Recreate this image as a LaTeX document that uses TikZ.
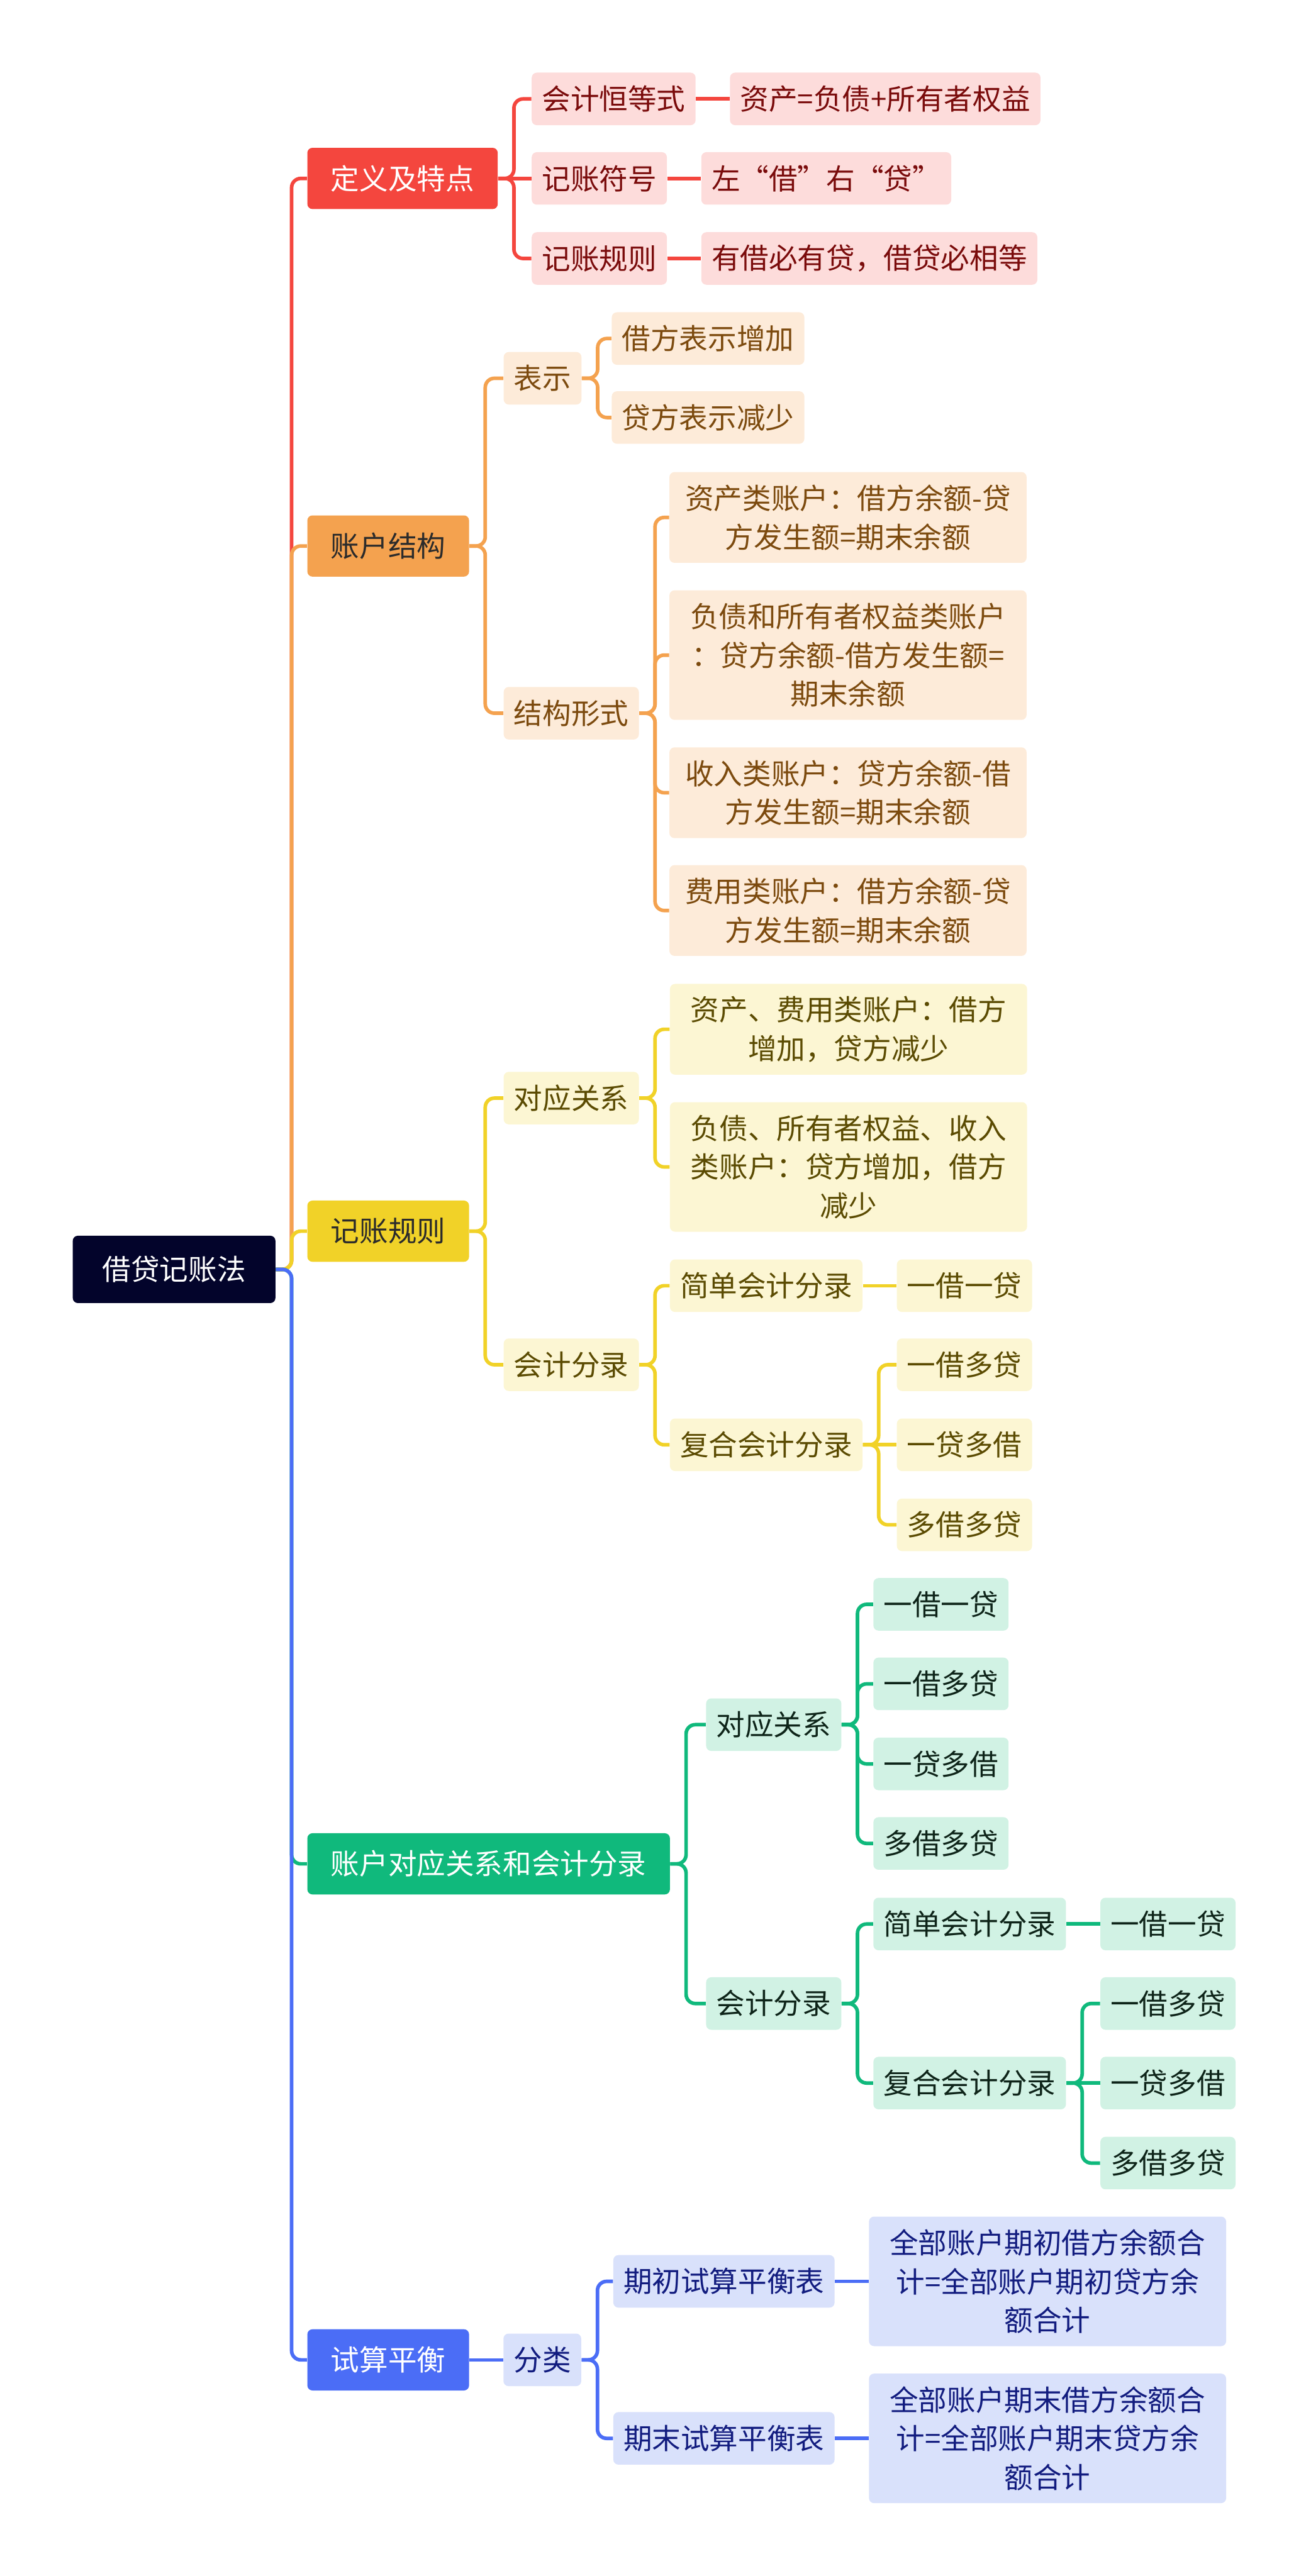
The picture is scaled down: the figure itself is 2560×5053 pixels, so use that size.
\documentclass[tikz,border=0pt]{standalone}
\usepackage{fontspec}
\setmainfont{Noto Sans CJK SC}
\usepackage{tikz}
\usetikzlibrary{positioning}

\definecolor{rootc}{HTML}{03042B}
\definecolor{darkt}{HTML}{2B2B2B}
\definecolor{redc}{HTML}{F4463E}
\definecolor{redl}{HTML}{FDDCDB}
\definecolor{redt}{HTML}{7A0B0B}
\definecolor{orac}{HTML}{F4A24F}
\definecolor{oral}{HTML}{FDEBD9}
\definecolor{orat}{HTML}{7C4A0E}
\definecolor{yelc}{HTML}{F1D228}
\definecolor{yell}{HTML}{FCF6D3}
\definecolor{yelt}{HTML}{5B4B02}
\definecolor{grec}{HTML}{10B97C}
\definecolor{grel}{HTML}{D1F2E4}
\definecolor{gret}{HTML}{0E2419}
\definecolor{bluc}{HTML}{4B6DF6}
\definecolor{blul}{HTML}{D9E1FB}
\definecolor{blut}{HTML}{121C7F}

\begin{document}
\begin{tikzpicture}[
  x=0.01cm, y=-0.01cm,
  node distance=0.66cm,
  base/.style={rectangle, rounded corners=0.1cm, anchor=west, align=center, font=\fontsize{16}{21.6}\selectfont},
  rootbox/.style={base, fill=rootc, text=white, inner xsep=0.58cm, minimum height=1.32cm},
  topic/.style={base, fill=#1, inner xsep=0.46cm, minimum height=1.2cm},
  sub/.style={base, inner xsep=0.2cm, minimum height=1.03cm},
  wide/.style={text width=6.5cm, inner xsep=0.25cm, minimum height=#1},
  rbox/.style={sub, fill=redl, text=redt},
  obox/.style={sub, fill=oral, text=orat},
  ybox/.style={sub, fill=yell, text=yelt},
  gbox/.style={sub, fill=grel, text=gret},
  bbox/.style={sub, fill=blul, text=blut},
  link/.style={line width=2pt, rounded corners=0.18cm}
]
\useasboundingbox (0,0) rectangle (2560,5053);

% root and main topics
\node[rootbox] (root) at (142,2490) {借贷记账法};
\node[topic=redc, text=white] (dy) at (602,350) {定义及特点};
\node[topic=orac, text=darkt] (zh) at (602,1071) {账户结构};
\node[topic=yelc, text=darkt] (jz) at (602,2415) {记账规则};
\node[topic=grec, text=white] (dyg) at (602,3656) {账户对应关系和会计分录};
\node[topic=bluc, text=white] (ss) at (602,4629) {试算平衡};

% definition
\node[rbox] (r1) at (1042,194) {会计恒等式};
\node[rbox] (r2) at (1042,350) {记账符号};
\node[rbox] (r3) at (1042,507) {记账规则};
\node[rbox, right=of r1] (r11) {资产=负债+所有者权益};
\node[rbox, right=of r2] (r21) {左“借”右“贷”};
\node[rbox, right=of r3] (r31) {有借必有贷，借贷必相等};

% account structure
\node[obox] (o1) at (987,742) {表示};
\node[obox] (o2) at (987,1399) {结构形式};
\node[obox] (o11) at (1199,664) {借方表示增加};
\node[obox] (o12) at (1199,819) {贷方表示减少};
\node[obox, wide=1.78cm] (o21) at (1312,1015) {资产类账户：借方余额-贷\\方发生额=期末余额};
\node[obox, wide=2.54cm] (o22) at (1312,1285) {负债和所有者权益类账户\\：贷方余额-借方发生额=\\期末余额};
\node[obox, wide=1.78cm] (o23) at (1312,1555) {收入类账户：贷方余额-借\\方发生额=期末余额};
\node[obox, wide=1.78cm] (o24) at (1312,1786) {费用类账户：借方余额-贷\\方发生额=期末余额};

% recording rule
\node[ybox] (y1) at (987,2154) {对应关系};
\node[ybox] (y2) at (987,2677) {会计分录};
\node[ybox, wide=1.78cm] (y11) at (1313,2019) {资产、费用类账户：借方\\增加，贷方减少};
\node[ybox, wide=2.54cm] (y12) at (1313,2289) {负债、所有者权益、收入\\类账户：贷方增加，借方\\减少};
\node[ybox] (y21) at (1313,2522) {简单会计分录};
\node[ybox] (y22) at (1313,2834) {复合会计分录};
\node[ybox, right=of y21] (y211) {一借一贷};
\node[ybox, right=of y22] (y222) {一贷多借};
\node[ybox] (y221) at (y222.west |- 0,2677) {一借多贷};
\node[ybox] (y223) at (y222.west |- 0,2991) {多借多贷};

% correspondence and entries
\node[gbox] (g1) at (1384,3383) {对应关系};
\node[gbox] (g2) at (1384,3930) {会计分录};
\node[gbox] (g11) at (1712,3147) {一借一贷};
\node[gbox] (g12) at (1712,3303) {一借多贷};
\node[gbox] (g13) at (1712,3460) {一贷多借};
\node[gbox] (g14) at (1712,3616) {多借多贷};
\node[gbox] (g21) at (1712,3774) {简单会计分录};
\node[gbox] (g22) at (1712,4086) {复合会计分录};
\node[gbox, right=of g21] (g211) {一借一贷};
\node[gbox, right=of g22] (g222) {一贷多借};
\node[gbox] (g221) at (g222.west |- 0,3930) {一借多贷};
\node[gbox] (g223) at (g222.west |- 0,4243) {多借多贷};

% trial balance
\node[bbox, right=of ss] (b1) {分类};
\node[bbox] (b11) at (1202,4475) {期初试算平衡表};
\node[bbox] (b12) at (1202,4783) {期末试算平衡表};
\node[bbox, wide=2.54cm, right=of b11] (b111) {全部账户期初借方余额合\\计=全部账户期初贷方余\\额合计};
\node[bbox, wide=2.54cm, right=of b12] (b121) {全部账户期末借方余额合\\计=全部账户期末贷方余\\额合计};

% connectors
\foreach \n/\col in {dy/redc,zh/orac,jz/yelc,dyg/grec,ss/bluc}
  \draw[link,\col] (\n.west) -| ([xshift=0.31cm]root.east) [sharp corners] -- (root.east);

\foreach \n in {r1,r3}
  \draw[link,redc] (\n.west) -| ([xshift=0.31cm]dy.east) [sharp corners] -- (dy.east);
\draw[link,redc] (dy.east) -- (r2.west);
\foreach \a/\b in {r1/r11,r2/r21,r3/r31}
  \draw[link,redc] (\a.east) -- (\b.west);

\foreach \n in {o1,o2}
  \draw[link,orac] (\n.west) -| ([xshift=0.31cm]zh.east) [sharp corners] -- (zh.east);
\foreach \n in {o11,o12}
  \draw[link,orac] (\n.west) -| ([xshift=0.31cm]o1.east) [sharp corners] -- (o1.east);
\foreach \n in {o21,o22,o23,o24}
  \draw[link,orac] (\n.west) -| ([xshift=0.31cm]o2.east) [sharp corners] -- (o2.east);

\foreach \n in {y1,y2}
  \draw[link,yelc] (\n.west) -| ([xshift=0.31cm]jz.east) [sharp corners] -- (jz.east);
\foreach \n in {y11,y12}
  \draw[link,yelc] (\n.west) -| ([xshift=0.31cm]y1.east) [sharp corners] -- (y1.east);
\foreach \n in {y21,y22}
  \draw[link,yelc] (\n.west) -| ([xshift=0.31cm]y2.east) [sharp corners] -- (y2.east);
\draw[link,yelc] (y21.east) -- (y211.west);
\foreach \n in {y221,y223}
  \draw[link,yelc] (\n.west) -| ([xshift=0.31cm]y22.east) [sharp corners] -- (y22.east);
\draw[link,yelc] (y22.east) -- (y222.west);

\foreach \n in {g1,g2}
  \draw[link,grec] (\n.west) -| ([xshift=0.31cm]dyg.east) [sharp corners] -- (dyg.east);
\foreach \n in {g11,g12,g13,g14}
  \draw[link,grec] (\n.west) -| ([xshift=0.31cm]g1.east) [sharp corners] -- (g1.east);
\foreach \n in {g21,g22}
  \draw[link,grec] (\n.west) -| ([xshift=0.31cm]g2.east) [sharp corners] -- (g2.east);
\draw[link,grec] (g21.east) -- (g211.west);
\foreach \n in {g221,g223}
  \draw[link,grec] (\n.west) -| ([xshift=0.31cm]g22.east) [sharp corners] -- (g22.east);
\draw[link,grec] (g22.east) -- (g222.west);

\draw[link,bluc] (ss.east) -- (b1.west);
\foreach \n in {b11,b12}
  \draw[link,bluc] (\n.west) -| ([xshift=0.31cm]b1.east) [sharp corners] -- (b1.east);
\draw[link,bluc] (b11.east) -- (b111.west);
\draw[link,bluc] (b12.east) -- (b121.west);
\end{tikzpicture}
\end{document}
